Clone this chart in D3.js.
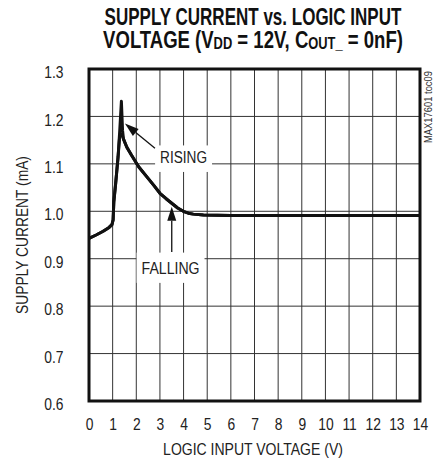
<!DOCTYPE html>
<html><head><meta charset="utf-8">
<script src="https://cdn.jsdelivr.net/npm/d3@7"></script>
<style>
body{margin:0;background:#fff;}
text{font-family:"Liberation Sans",Arial,sans-serif;fill:#222;}
</style></head><body>
<svg id="c" width="441" height="461"></svg>
<script>
// ---- data ----
const xTicks = [0,1,2,3,4,5,6,7,8,9,10,11,12,13,14];
const yTicks = [0.6,0.7,0.8,0.9,1.0,1.1,1.2,1.3];
const yTickLabels = ["0.6","0.7","0.8","0.9","1.0","1.1","1.2","1.3"];
const risingV = [0,0.3,0.6,0.85,0.97,1.02,1.05,1.13,1.23,1.3,1.37,1.42,1.46,1.6,1.8,2.1,2.44,2.75,3.0,3.25,3.5,3.75,3.99,4.2,4.41,4.84,6,8,10,12,14];
const risingI = [0.943,0.95,0.958,0.966,0.972,0.982,1.02,1.06,1.115,1.17,1.232,1.17,1.152,1.135,1.118,1.094,1.073,1.054,1.038,1.027,1.017,1.007,1.0,0.996,0.994,0.992,0.991,0.991,0.991,0.991,0.991];
const fallingV = [14,12,10,8,6,4.84,4.41,4.2,3.99,3.75,3.5,3.25,3.0,2.75,2.44,2.1,1.8,1.6,1.46,1.38,1.3,1.23,1.13,1.05,1.02,0.97,0.85,0.6,0.3,0];
const fallingI = [0.991,0.991,0.991,0.991,0.991,0.992,0.994,0.996,1.0,1.007,1.017,1.027,1.038,1.054,1.073,1.094,1.118,1.135,1.152,1.163,1.16,1.115,1.06,1.02,0.982,0.972,0.966,0.958,0.95,0.943];
const titleLine1 = "SUPPLY CURRENT vs. LOGIC INPUT";
const xTitle = "LOGIC INPUT VOLTAGE (V)";
const yTitle = "SUPPLY CURRENT (mA)";
const sideNote = "MAX17601 toc09";
const risingLabel = {text:"RISING", v:4.0, i:1.115, tailV:2.79, tailI:1.133, tipV:1.52, tipI:1.185};
const fallingLabel = {text:"FALLING", v:3.45, i:0.881, tailV:3.5, tailI:0.914, tipV:3.5, tipI:1.0095};

// ---- layout ----
const svg = d3.select("#c");
const x = d3.scaleLinear().domain([0,14]).range([89,420]);
const y = d3.scaleLinear().domain([0.6,1.3]).range([401,69]);
const SX = 0.84; // condensed look

function txt(px, py, str, o={}){
  const gg = svg.append("g").attr("transform",`translate(${px},${py})${o.rot?` rotate(${o.rot})`:""}`);
  const t = gg.append("text").attr("x",0).attr("y",0).attr("text-anchor",o.anchor||"middle")
    .style("font-size",(o.size||16)+"px").style("font-weight",o.bold?"bold":"normal");
  if (o.fill) t.style("fill",o.fill);
  if (o.dy) t.attr("dy",o.dy);
  if (typeof str === "string") t.text(str); else str(t);
  let sx = SX;
  if (o.width) sx = o.width / t.node().getComputedTextLength();
  t.attr("transform",`scale(${sx},1)`);
  return {g:gg,t:t,sx:sx};
}

// title
txt(253,25,titleLine1,{size:23,bold:true,width:297,fill:"#111"});
txt(253,48,t=>{
  t.append("tspan").text("VOLTAGE (V");
  t.append("tspan").style("font-size","16px").attr("dy",1).text("DD");
  t.append("tspan").attr("dy",-1).text(" = 12V, C");
  t.append("tspan").style("font-size","16px").attr("dy",1).text("OUT_");
  t.append("tspan").attr("dy",-1).text(" = 0nF)");
},{size:23,bold:true,width:300,fill:"#111"});

// grid
const g = svg.append("g");
g.selectAll("line.v").data(xTicks.slice(1,-1)).enter().append("line")
  .attr("x1",d=>x(d)).attr("x2",d=>x(d)).attr("y1",y(1.3)).attr("y2",y(0.6))
  .attr("stroke","#333").attr("stroke-width",1);
g.selectAll("line.h").data(yTicks.slice(1,-1)).enter().append("line")
  .attr("y1",d=>y(d)).attr("y2",d=>y(d)).attr("x1",x(0)).attr("x2",x(14))
  .attr("stroke","#333").attr("stroke-width",1);

// tick labels via axes
const xAxis = d3.axisBottom(x).tickValues(xTicks).tickSize(0).tickPadding(0).tickFormat(d3.format("d"));
const xa = svg.append("g").attr("transform",`translate(0,${y(0.6)})`).call(xAxis);
xa.select(".domain").remove();
xa.selectAll("text").attr("y",29).attr("dy",0).style("font-size","16.5px").style("fill","#222")
  .style("font-family","Liberation Sans, Arial, sans-serif").attr("transform",`scale(${SX},1)`);

const yAxis = d3.axisLeft(y).tickValues(yTicks).tickSize(0).tickPadding(0).tickFormat((d,i)=>yTickLabels[i]);
const ya = svg.append("g").attr("transform",`translate(${x(0)},0)`).call(yAxis);
ya.select(".domain").remove();
ya.selectAll("text").attr("x",-25.5/SX).attr("dy","0.52em").style("font-size","16.5px").style("fill","#222")
  .style("font-family","Liberation Sans, Arial, sans-serif").attr("transform",`scale(${SX},1)`);

// axis titles
txt(253,455,xTitle,{size:16.5,width:180});
txt(28,235,yTitle,{size:16.5,width:158,rot:-90});
txt(432,107,sideNote,{size:10,width:72,rot:-90,fill:"#333"});

// curves
const line = d3.line().x(d=>x(d[0])).y(d=>y(d[1])).curve(d3.curveLinear);
const rising = risingV.map((v,i)=>[v,risingI[i]]);
const falling = fallingV.map((v,i)=>[v,fallingI[i]]);
svg.append("path").attr("d",line(falling)).attr("fill","none").attr("stroke","#111").attr("stroke-width",3).attr("stroke-linejoin","round");
svg.append("path").attr("d",line(rising)).attr("fill","none").attr("stroke","#111").attr("stroke-width",3).attr("stroke-linejoin","round");

function label(L, w, padX, padTop, padBot){
  const cx=x(L.v), cy=y(L.i);
  const r = svg.append("rect").attr("fill","#fff");
  const o = txt(cx,cy,L.text,{size:16.5,width:w,dy:"0.36em"});
  const b = o.t.node().getBBox();
  const bw = b.width*o.sx;
  r.attr("x",cx-bw/2-padX).attr("y",cy+b.y-padTop).attr("width",bw+2*padX).attr("height",b.height+padTop+padBot);
}
label(risingLabel,47,5,2,6);
label(fallingLabel,58,5,6,6);

function arrow(L){
  const x1=x(L.tailV), y1=y(L.tailI), x2=x(L.tipV), y2=y(L.tipI);
  const ang=Math.atan2(y2-y1,x2-x1), len=14, w=4.5;
  const bx=x2-len*Math.cos(ang), by=y2-len*Math.sin(ang);
  svg.append("line").attr("x1",x1).attr("y1",y1).attr("x2",bx).attr("y2",by).attr("stroke","#111").attr("stroke-width",1.3);
  const px=-Math.sin(ang)*w, py=Math.cos(ang)*w;
  svg.append("path").attr("d",`M${x2},${y2}L${bx+px},${by+py}L${bx-px},${by-py}Z`).attr("fill","#111");
}
arrow(risingLabel);
arrow(fallingLabel);

svg.append("rect").attr("x",x(0)).attr("y",y(1.3)).attr("width",x(14)-x(0)).attr("height",y(0.6)-y(1.3))
  .attr("fill","none").attr("stroke","#111").attr("stroke-width",3);
</script></body></html>
